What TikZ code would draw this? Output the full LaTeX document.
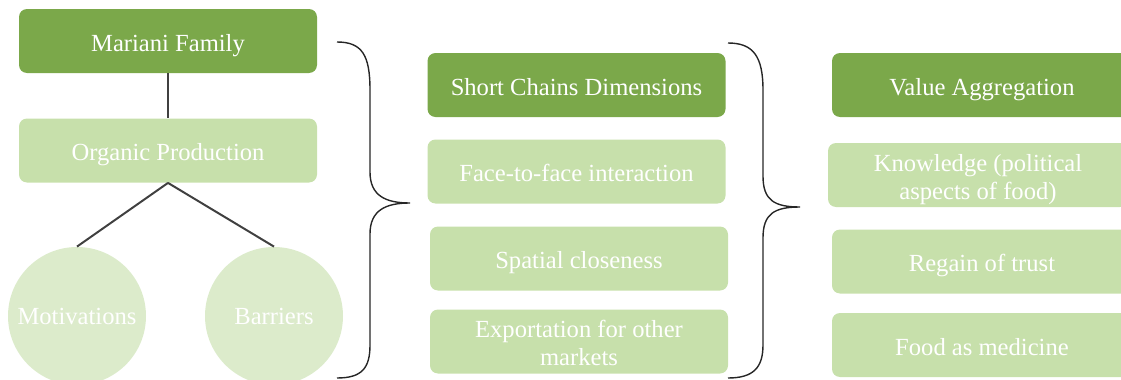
\documentclass[tikz,border=0pt]{standalone}
\usepackage{fontspec}
\setmainfont{Liberation Serif}
\usepackage{tikz}

\definecolor{darkgr}{HTML}{7BA84A}
\definecolor{lightgr}{HTML}{C7E0AB}
\definecolor{palegr}{HTML}{DCEBCB}

\begin{document}
\begin{tikzpicture}[x=0.5pt,y=-0.5pt,
  head/.style={fill=darkgr,rounded corners=4pt,minimum width=149pt,minimum height=32pt,inner sep=0pt,
    text=white,align=center,text height=10pt,text depth=0pt,font=\fontsize{12.3}{14}\selectfont},
  item/.style={head,fill=lightgr},
  twoline/.style={text height=24pt},
  bubble/.style={circle,fill=palegr,minimum size=69pt,inner sep=0pt,text=white,font=\fontsize{12.3}{14}\selectfont},
  link/.style={draw=black!75,line width=1pt},
  curly/.style={draw=black!85,line width=0.7pt}]
\useasboundingbox (0,0) rectangle (1121,380);
% left column
\node [head] (family) at (168,41) {Mariani Family};
\node [item] (organic) at (168,150.5) {Organic Production};
\node [bubble] (motiv) at (77,316) {Motivations};
\node [bubble] (barrier) at (274,316) {Barriers};
\draw [link] (family) -- (organic);
\draw [link] (organic.south) -- (motiv.north);
\draw [link] (organic.south) -- (barrier.north);
% first brace
\draw [curly] (337,42) .. controls (362,42) and (370,55) .. (370,90) -- (370,172)
  .. controls (370,196) and (386,203) .. (410,203)
  .. controls (386,203) and (370,210) .. (370,234) -- (370,345)
  .. controls (370,368) and (362,378) .. (337,378);
% middle column
\node [head] (short) at (576.5,85) {Short Chains Dimensions};
\node [item] (face) at (576.5,171.5) {Face-to-face interaction};
\node [item] (spatial) at (579,258.5) {Spatial closeness};
\node [item,twoline] (export) at (579,341.5) {Exportation for other\\markets};
% second brace
\draw [curly] (728,43) .. controls (753,43) and (763,56) .. (763,90) -- (763,176)
  .. controls (763,200) and (774,207) .. (800,207)
  .. controls (774,207) and (763,214) .. (763,238) -- (763,345)
  .. controls (763,368) and (753,378) .. (728,378);
% right column
\node [head,minimum width=150pt] (value) at (982,85) {Value Aggregation};
\node [item,twoline,minimum width=150pt] (know) at (978,175) {Knowledge (political\\aspects of food)};
\node [item,minimum width=150pt] (regain) at (982,261.5) {Regain of trust};
\node [item,minimum width=150pt] (food) at (982,345) {Food as medicine};
\end{tikzpicture}
\end{document}
